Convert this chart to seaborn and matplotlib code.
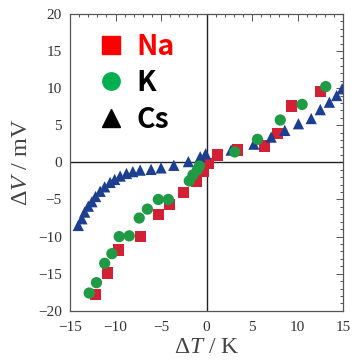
import numpy as np
import pandas as pd
import matplotlib
matplotlib.use("Agg")
import matplotlib.pyplot as plt
from matplotlib.lines import Line2D
from matplotlib.ticker import MultipleLocator
import seaborn as sns

# Thermoelectric response: membrane potential change vs temperature difference
na_dT = [-12.2, -10.9, -9.7, -7.3, -5.3, -4.1, -2.5, -1.1, -0.4, 0.15, 1.2, 3.4, 6.4, 7.8, 9.3, 12.5]
na_dV = [-17.8, -14.9, -11.8, -9.95, -7.05, -5.7, -4.05, -2.6, -1.25, -0.2, 1.0, 1.65, 2.2, 3.9, 7.6, 9.5]

k_dT = [-12.9, -12.1, -11.2, -10.4, -9.6, -8.5, -7.4, -6.5, -5.3, -4.2, -1.9, -1.5, -1.0, -0.8, 3.1, 5.6, 8.1, 10.5, 13.1]
k_dV = [-17.6, -16.2, -13.6, -12.3, -10.0, -9.9, -7.5, -6.3, -5.0, -5.0, -2.5, -1.7, -1.0, -0.5, 1.4, 3.1, 5.7, 7.8, 10.2]

cs_dT = [-14.1, -13.7, -13.4, -13.0, -12.6, -12.2, -11.7, -11.2, -10.6, -10.1, -9.5, -8.8, -8.1, -7.3,
         -6.1, -5.0, -3.6, -2.0, -0.7, -0.1, 2.7, 5.2, 7.1, 8.6, 10.1, 11.5, 12.5, 13.5, 14.3, 14.9]
cs_dV = [-8.5, -7.6, -6.7, -5.9, -5.3, -4.6, -3.9, -3.3, -2.7, -2.3, -1.85, -1.5, -1.25, -1.05,
         -0.95, -0.75, -0.4, 0.1, 0.75, 1.15, 1.65, 2.45, 3.4, 4.3, 5.2, 5.9, 7.1, 8.1, 9.0, 9.9]

ions = ["Na", "K", "Cs"]
point_colors = {"Na": "#d42034", "K": "#1f9a45", "Cs": "#1c3f92"}
legend_colors = {"Na": "#ff0000", "K": "#00b050", "Cs": "#000000"}
markers = {"Na": "s", "K": "o", "Cs": "^"}

x_ticks = [-15, -10, -5, 0, 5, 10, 15]
y_ticks = [-20, -15, -10, -5, 0, 5, 10, 15, 20]

# Long-form table; drawing order Na, Cs, K so circles sit on top
df = pd.concat([
    pd.DataFrame({"dT": na_dT, "dV": na_dV, "ion": "Na"}),
    pd.DataFrame({"dT": cs_dT, "dV": cs_dV, "ion": "Cs"}),
    pd.DataFrame({"dT": k_dT, "dV": k_dV, "ion": "K"}),
], ignore_index=True)

sns.set_theme(style="white")
plt.rcParams["font.family"] = ["Liberation Serif", "DejaVu Serif"]
plt.rcParams["mathtext.fontset"] = "custom"
plt.rcParams["mathtext.rm"] = "Liberation Serif"
plt.rcParams["mathtext.it"] = "Liberation Serif:italic"

fig = plt.figure(figsize=(3.54, 3.64), dpi=100)
ax = fig.add_axes([0.198, 0.146, 0.771, 0.816])

ax.axhline(0, color="#222222", lw=1.0, zorder=1)
ax.axvline(0, color="#222222", lw=1.0, zorder=1)

sns.scatterplot(data=df, x="dT", y="dV", hue="ion", style="ion",
                palette=point_colors, markers=markers, s=66,
                edgecolor="none", linewidth=0, legend=False, ax=ax, zorder=3)

ax.set_xlim(-15, 15)
ax.set_ylim(-20, 20)
ax.set_xticks(x_ticks)
ax.set_yticks(y_ticks)
ax.xaxis.set_minor_locator(MultipleLocator(1))
ax.yaxis.set_minor_locator(MultipleLocator(1))
ax.tick_params(which="both", direction="in", top=True, right=True,
               color="#555555", width=0.7)
ax.tick_params(which="major", length=5, labelsize=11, labelcolor="#333333")
ax.tick_params(axis="x", which="major", pad=7)
ax.tick_params(axis="y", which="major", pad=6)
ax.tick_params(which="minor", length=2.5)
for sp in ax.spines.values():
    sp.set_color("#555555")
    sp.set_linewidth(0.9)

ax.set_xlabel(r"Δ$T$ / K", fontsize=17, color="#444444", labelpad=2.5)
ax.set_ylabel(r"Δ$V$ / mV", fontsize=17.5, color="#444444", labelpad=4)

handles = [Line2D([], [], linestyle="none", marker=markers[i], color=legend_colors[i],
                  markersize=12.5) for i in ions]
leg = ax.legend(handles, ions, loc="upper left", bbox_to_anchor=(0.055, 0.975),
                frameon=False, handlelength=1.0, handletextpad=0.4,
                labelspacing=0.3, borderaxespad=0,
                prop={"family": "Noto Sans CJK JP", "weight": "bold", "size": 20.5})
for txt, ion in zip(leg.get_texts(), ions):
    txt.set_color("#ff0000" if ion == "Na" else "#000000")

fig.savefig("out.png", dpi=100)
